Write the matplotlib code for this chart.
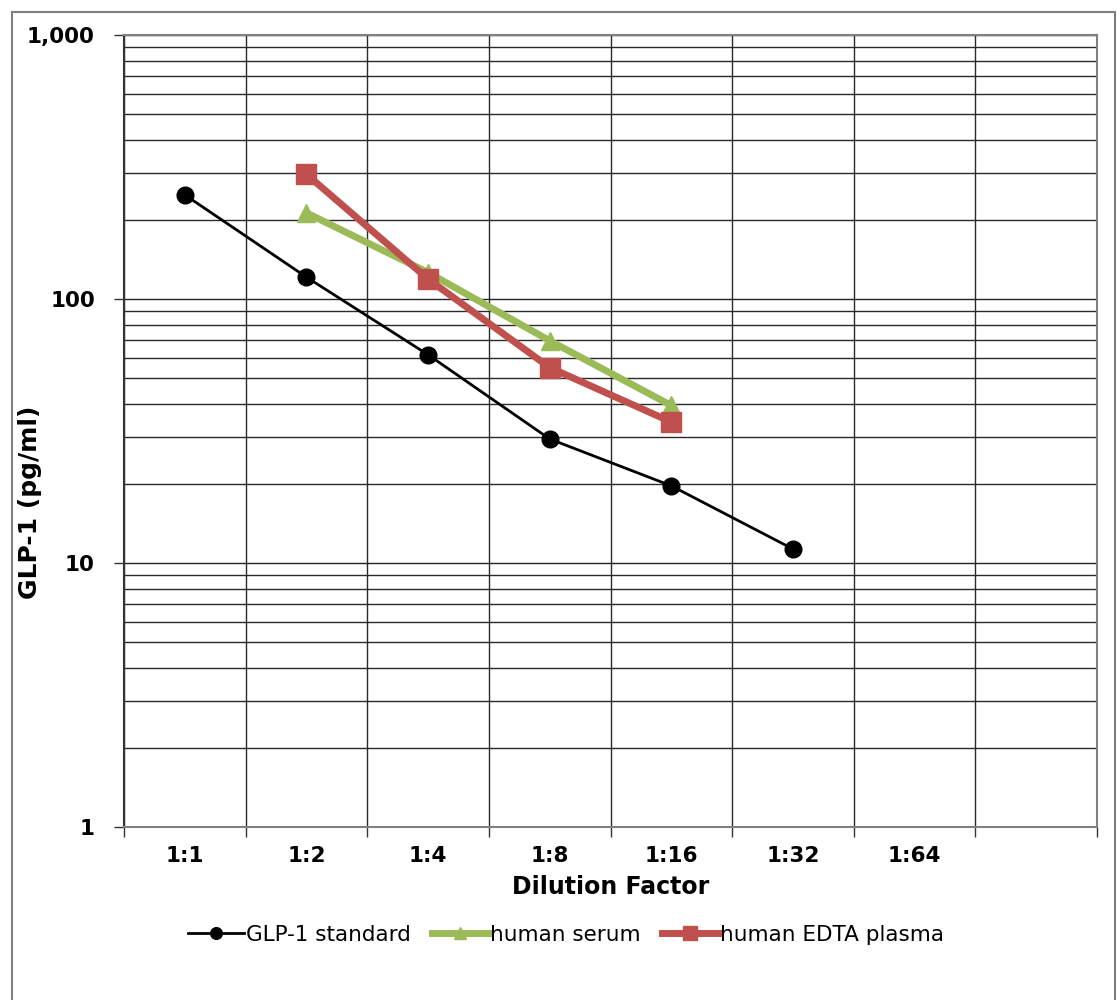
import matplotlib
matplotlib.use("Agg")
import matplotlib.pyplot as plt
from matplotlib.patches import Rectangle
from matplotlib.ticker import FixedLocator, NullFormatter, FuncFormatter

categories = ["1:1", "1:2", "1:4", "1:8", "1:16", "1:32", "1:64", ""]
std_idx = [0, 1, 2, 3, 4, 5]
std_vals = [248, 121, 61.5, 29.5, 19.6, 11.3]
serum_idx = [1, 2, 3, 4]
serum_vals = [212, 126, 69.5, 39.5]
plasma_idx = [1, 2, 3, 4]
plasma_vals = [297, 119, 55, 34.2]

plt.rcParams['font.family'] = ['DejaVu Sans']

fig = plt.figure(figsize=(11.17, 10), dpi=100)
ax = fig.add_axes([124/1117, 1-827/1000, (1097-124)/1117, (827-35)/1000])

ax.set_yscale('log')
ax.set_ylim(1, 1000)
ax.set_xlim(-0.5, len(categories) - 0.5)

# gridlines
ax.yaxis.set_major_locator(FixedLocator([1, 10, 100, 1000]))
minors = [m * 10**e for e in range(0, 3) for m in range(2, 10)]
ax.yaxis.set_minor_locator(FixedLocator(minors))
ax.yaxis.set_minor_formatter(NullFormatter())
ax.yaxis.set_major_formatter(FuncFormatter(lambda v, p: f"{int(round(v)):,}"))
ax.grid(True, which='major', axis='y', color='#222222', lw=1.0)
ax.grid(True, which='minor', axis='y', color='#2a2a2a', lw=1.0)
ax.tick_params(axis='y', which='minor', length=0)
ax.tick_params(axis='y', which='major', length=7, width=1, color='#333333', labelsize=15.5, pad=14)

ax.set_xticks(range(len(categories)))
ax.set_xticklabels(categories, fontsize=15.5, fontweight='bold')
ax.xaxis.set_minor_locator(FixedLocator([i - 0.5 for i in range(len(categories) + 1)]))
ax.tick_params(axis='x', which='major', length=0, pad=14)
ax.tick_params(axis='x', which='minor', length=7, width=1, color='#333333')
ax.grid(True, which='minor', axis='x', color='#2a2a2a', lw=1.0)
for lab in ax.get_yticklabels():
    lab.set_fontweight('bold')
ax.set_axisbelow(True)

for s in ax.spines.values():
    s.set_color('#808080')
    s.set_linewidth(1.5)
ax.spines['left'].set_color('#333333')

ax.plot(std_idx, std_vals, color='black', lw=2, marker='o', ms=12,
        label='GLP-1 standard', zorder=3)
ax.plot(serum_idx, serum_vals, color='#9bbb59', lw=5, marker='^', ms=13,
        label='human serum', zorder=4)
ax.plot(plasma_idx, plasma_vals, color='#c0504d', lw=5, marker='s', ms=15,
        label='human EDTA plasma', zorder=5)

ax.set_xlabel('Dilution Factor', fontsize=17, fontweight='bold', labelpad=6)
ax.set_ylabel('GLP-1 (pg/ml)', fontsize=18, fontweight='bold')
ax.yaxis.set_label_coords((42 - 124) / 973, (827 - 502) / 792)

leg = fig.legend(loc='center', bbox_to_anchor=(566/1117, 1-935/1000), ncol=3,
                 frameon=False, fontsize=15.5, handlelength=2.6, handletextpad=0.1,
                 columnspacing=1.0, markerscale=0.7)

fig.patches.append(Rectangle((12/1117, -0.02), (1115-12)/1117, 1.02 - 12/1000,
                             transform=fig.transFigure, fill=False,
                             edgecolor='#808080', lw=1.5))

fig.savefig('out.png', dpi=100)
